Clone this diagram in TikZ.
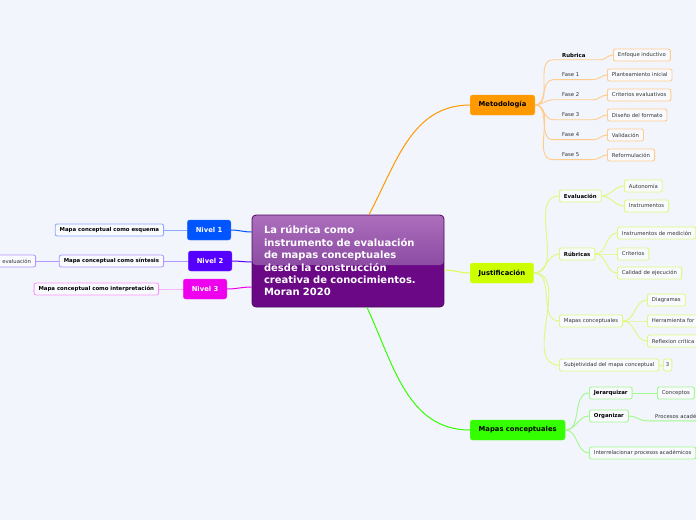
\documentclass[tikz,border=0pt]{standalone}
\usepackage{fontspec}
\setmainfont{DejaVu Sans}

\definecolor{bgcol}{RGB}{243,245,252}
\definecolor{boxfill}{RGB}{249,250,254}
\definecolor{textgray}{RGB}{51,51,51}
\definecolor{metoorange}{RGB}{255,153,0}
\definecolor{metolight}{RGB}{255,204,140}
\definecolor{justyellow}{RGB}{204,255,0}
\definecolor{justlight}{RGB}{220,250,125}
\definecolor{mapgreen}{RGB}{51,255,0}
\definecolor{maplight}{RGB}{160,250,140}
\definecolor{nivelblue}{RGB}{0,85,255}
\definecolor{bluelight}{RGB}{140,170,255}
\definecolor{nivelviolet}{RGB}{85,0,255}
\definecolor{violetlight}{RGB}{180,150,255}
\definecolor{nivelpink}{RGB}{238,0,238}
\definecolor{pinklight}{RGB}{250,150,250}
\definecolor{centraltop}{RGB}{172,110,188}
\definecolor{centralmid}{RGB}{140,76,164}
\definecolor{centraldark}{RGB}{106,8,134}
\definecolor{centraledge}{RGB}{75,10,95}

\begin{document}
\begin{tikzpicture}[
    x=1pt, y=-1pt,
    central/.style={draw=centraledge, line width=0.8pt, rounded corners=4pt, minimum width=192pt, minimum height=92pt,
        text width=168pt, inner xsep=12pt, align=left, text=white, font=\fontsize{10}{12.4}\selectfont\bfseries,
        path picture={
            \fill[centraldark] (path picture bounding box.south west) rectangle (path picture bounding box.north east);
            \shade[top color=centraltop, bottom color=centralmid] (path picture bounding box.north west) rectangle ([yshift=-4pt]path picture bounding box.east);
        }},
    topic/.style={draw=#1!85!white, fill=#1, rounded corners=2.5pt, minimum height=20pt, inner xsep=8.5pt,
        font=\fontsize{6.8}{8}\selectfont\bfseries},
    leaf/.style={draw=#1, fill=boxfill, line width=0.9pt, rounded corners=2pt, minimum height=12pt, inner xsep=4.5pt,
        inner ysep=1pt, text=textgray, font=\fontsize{5.3}{6.4}\selectfont},
    leafb/.style={leaf=#1, text=black, font=\fontsize{5.4}{6.4}\selectfont\bfseries},
    uline/.style={anchor=west, inner xsep=0pt, inner ysep=2.5pt, align=left, text=textgray, font=\fontsize{5.3}{6.4}\selectfont},
    mainline/.style={line width=1pt, #1},
    subline/.style={line width=0.9pt, #1}
]

\useasboundingbox (0,0) rectangle (696,520);
\fill[bgcol] (0,0) rectangle (696,520);
\clip (0,0) rectangle (696,520);

% ===== CENTRAL TOPIC =====
\node[central] (central) at (348,261) {La rúbrica como\\instrumento de evaluación\\de mapas conceptuales\\desde la construcción\\creativa de conocimientos.\\Moran 2020};

% ===== MAIN TOPICS =====
\node[topic=metoorange, anchor=west] (meto) at (470,105) {Metodología};
\node[topic=justyellow, anchor=west] (just) at (470,273) {Justificación};
\node[topic=mapgreen, anchor=west] (mapas) at (470,430) {Mapas conceptuales};
\node[topic=nivelblue, text=white, anchor=east] (niv1) at (231,230) {Nivel 1};
\node[topic=nivelviolet, text=white, anchor=east] (niv2) at (232,261) {Nivel 2};
\node[topic=nivelpink, text=white, anchor=east] (niv3) at (227,289) {Nivel 3};

\draw[mainline=metoorange] ([xshift=21pt]central.north) to[out=62, in=180] (meto.west);
\draw[mainline=justyellow!70!white] (central.east |- 0,270) to[out=0, in=180] (just.west);
\draw[mainline=mapgreen] ([xshift=19pt]central.south) to[out=-65, in=180] (mapas.west);
\draw[mainline=nivelblue] (central.west |- 0,232) to[out=180, in=0] (niv1.east);
\draw[mainline=nivelviolet] (central.west |- 0,262) to[out=180, in=0] (niv2.east);
\draw[mainline=nivelpink] (central.west |- 0,287) to[out=180, in=0] (niv3.east);

% ===== METODOLOGIA =====
\node[uline, text width=38pt, text=black, font=\fontsize{5.4}{6.4}\selectfont\bfseries] (rub) at (562,55) {Rubrica};
\node[uline, text width=31pt] (f1) at (562,75) {Fase 1};
\node[uline, text width=31pt] (f2) at (562,95) {Fase 2};
\node[uline, text width=31pt] (f3) at (562,115) {Fase 3};
\node[uline, text width=31pt] (f4) at (562,135) {Fase 4};
\node[uline, text width=31pt] (f5) at (562,155) {Fase 5};

\node[leaf=metolight, anchor=west] (enf) at (613,55) {Enfoque inductivo};
\node[leaf=metolight, anchor=west] (plan) at (607,75) {Planteamiento inicial};
\node[leaf=metolight, anchor=west] (crev) at (607,95) {Criterios evaluativos};
\node[leaf=metolight, anchor=west] (dis) at (607,115) {Diseño del formato};
\node[leaf=metolight, anchor=west] (val) at (607,135) {Validación};
\node[leaf=metolight, anchor=west] (refo) at (607,155) {Reformulación};

\draw[subline=metolight] (meto.east) to[out=0, in=180] ([xshift=-9pt]rub.south west) -- (rub.south east) to[out=0, in=180] (enf.west);
\draw[subline=metolight] (meto.east) to[out=0, in=180] ([xshift=-9pt]f1.south west) -- (f1.south east) to[out=0, in=180] (plan.west);
\draw[subline=metolight] (meto.east) to[out=0, in=180] ([xshift=-9pt]f2.south west) -- (f2.south east) to[out=0, in=180] (crev.west);
\draw[subline=metolight] (meto.east) to[out=0, in=180] ([xshift=-9pt]f3.south west) -- (f3.south east) to[out=0, in=180] (dis.west);
\draw[subline=metolight] (meto.east) to[out=0, in=180] ([xshift=-9pt]f4.south west) -- (f4.south east) to[out=0, in=180] (val.west);
\draw[subline=metolight] (meto.east) to[out=0, in=180] ([xshift=-9pt]f5.south west) -- (f5.south east) to[out=0, in=180] (refo.west);

% ===== JUSTIFICACION =====
\node[leafb=justlight, anchor=west] (ev) at (559,196) {Evaluación};
\node[leaf=justlight, anchor=west] (aut) at (624,186) {Autonomía};
\node[leaf=justlight, anchor=west] (ins) at (624,206) {Instrumentos};

\node[leafb=justlight, anchor=west] (rubr) at (559,254) {Rúbricas};
\node[leaf=justlight, anchor=west] (med) at (617,233) {Instrumentos de medición};
\node[leaf=justlight, anchor=west] (crit) at (617,254) {Criterios};
\node[leaf=justlight, anchor=west] (cal) at (617,273) {Calidad de ejecución};

\node[leaf=justlight, anchor=west] (mc) at (559,321) {Mapas conceptuales};
\node[leaf=justlight, anchor=west] (diag) at (647,300) {Diagramas};
\node[leaf=justlight, anchor=west, text width=60pt, align=left] (herr) at (647,321) {Herramienta for};
\node[leaf=justlight, anchor=west] (refl) at (647,341) {Reflexion crítica};

\node[leaf=justlight, anchor=west] (subj) at (559,365) {Subjetividad del mapa conceptual};
\node[leaf=justlight, anchor=west, inner xsep=2.5pt] (three) at (663,365) {3};

\draw[subline=justlight] (just.east) to[out=0, in=180] (ev.west);
\draw[subline=justlight] (just.east) to[out=0, in=180] (rubr.west);
\draw[subline=justlight] (just.east) to[out=0, in=180] (mc.west);
\draw[subline=justlight] (just.east) to[out=0, in=180] (subj.west);
\draw[subline=justlight] (ev.east) to[out=0, in=180] (aut.west);
\draw[subline=justlight] (ev.east) to[out=0, in=180] (ins.west);
\draw[subline=justlight] (rubr.east) to[out=0, in=180] (med.west);
\draw[subline=justlight] (rubr.east) to[out=0, in=180] (crit.west);
\draw[subline=justlight] (rubr.east) to[out=0, in=180] (cal.west);
\draw[subline=justlight] (mc.east) to[out=0, in=180] (diag.west);
\draw[subline=justlight] (mc.east) to[out=0, in=180] (herr.west);
\draw[subline=justlight] (mc.east) to[out=0, in=180] (refl.west);
\draw[subline=justlight] (subj.east) -- (three.west);

% ===== MAPAS CONCEPTUALES =====
\node[leafb=maplight, anchor=west] (jer) at (589,393) {Jerarquizar};
\node[leaf=maplight, anchor=west] (conc) at (657,393) {Conceptos};
\node[leafb=maplight, anchor=west] (org) at (589,416) {Organizar};
\node[uline, text width=45pt] (proc) at (655,416) {Procesos acadé};
\node[leaf=maplight, anchor=west] (inter) at (589,453) {Interrelacionar procesos académicos};

\draw[subline=maplight] (mapas.east) to[out=0, in=180] (jer.west);
\draw[subline=maplight] (mapas.east) to[out=0, in=180] (org.west);
\draw[subline=maplight] (mapas.east) to[out=0, in=180] (inter.west);
\draw[subline=maplight] (jer.east) -- (conc.west);
\draw[subline=maplight] (org.east) to[out=0, in=180] ([xshift=-8pt]proc.south west) -- (proc.south east);

% ===== NIVELES =====
\node[leafb=bluelight, anchor=east] (esq) at (164,230) {Mapa conceptual como esquema};
\node[leafb=violetlight, anchor=east] (sin) at (164,261) {Mapa conceptual como síntesis};
\node[leaf=violetlight, anchor=east, text width=60pt, align=right] (eva) at (36,261) {evaluación};
\node[leafb=pinklight, anchor=east] (interp) at (159,289) {Mapa conceptual como interpretación};

\draw[subline=bluelight] (niv1.west) -- (esq.east);
\draw[subline=violetlight] (niv2.west) -- (sin.east);
\draw[subline=violetlight] (sin.west) -- (eva.east);
\draw[subline=pinklight] (niv3.west) to[out=180, in=0] (interp.east);

\end{tikzpicture}
\end{document}
